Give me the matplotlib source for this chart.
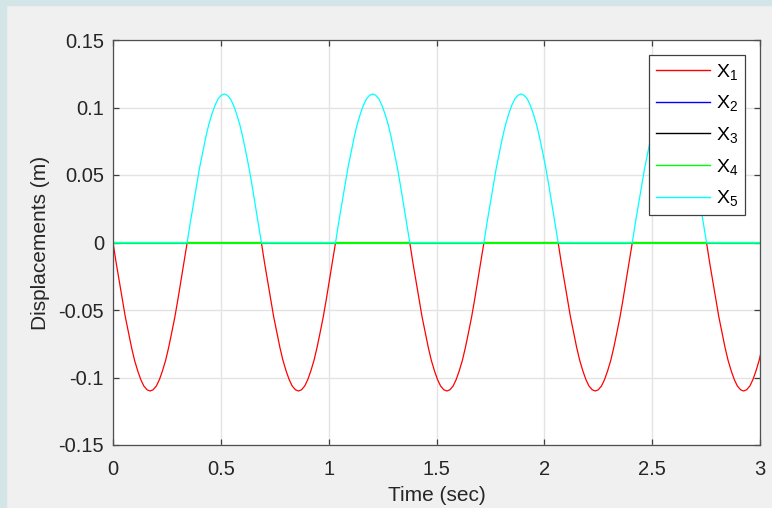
import numpy as np
import matplotlib
matplotlib.use("Agg")
import matplotlib.pyplot as plt
from matplotlib.patches import Rectangle

# time samples (sec)
t = [0.000, 0.014, 0.029, 0.043, 0.057, 0.072, 0.086, 0.100, 0.115, 0.129, 0.143, 0.158,
     0.172, 0.186, 0.201, 0.215, 0.229, 0.244, 0.258, 0.272, 0.287, 0.301, 0.315, 0.330,
     0.344, 0.358, 0.373, 0.387, 0.401, 0.416, 0.430, 0.444, 0.459, 0.473, 0.487, 0.502,
     0.516, 0.530, 0.545, 0.559, 0.573, 0.588, 0.602, 0.616, 0.631, 0.645, 0.659, 0.674,
     0.688, 0.702, 0.717, 0.731, 0.745, 0.760, 0.774, 0.788, 0.803, 0.817, 0.831, 0.846,
     0.860, 0.874, 0.889, 0.903, 0.917, 0.932, 0.946, 0.960, 0.975, 0.989, 1.003, 1.018,
     1.032, 1.046, 1.061, 1.075, 1.089, 1.104, 1.118, 1.132, 1.147, 1.161, 1.175, 1.190,
     1.204, 1.218, 1.233, 1.247, 1.261, 1.276, 1.290, 1.304, 1.319, 1.333, 1.347, 1.362,
     1.376, 1.390, 1.405, 1.419, 1.433, 1.448, 1.462, 1.476, 1.491, 1.505, 1.519, 1.534,
     1.548, 1.562, 1.577, 1.591, 1.605, 1.620, 1.634, 1.648, 1.663, 1.677, 1.691, 1.706,
     1.720, 1.734, 1.749, 1.763, 1.777, 1.792, 1.806, 1.820, 1.835, 1.849, 1.863, 1.878,
     1.892, 1.906, 1.921, 1.935, 1.949, 1.964, 1.978, 1.992, 2.007, 2.021, 2.035, 2.050,
     2.064, 2.078, 2.093, 2.107, 2.121, 2.136, 2.150, 2.164, 2.179, 2.193, 2.207, 2.222,
     2.236, 2.250, 2.265, 2.279, 2.293, 2.308, 2.322, 2.336, 2.351, 2.365, 2.379, 2.394,
     2.408, 2.422, 2.437, 2.451, 2.465, 2.480, 2.494, 2.508, 2.523, 2.537, 2.551, 2.566,
     2.580, 2.594, 2.609, 2.623, 2.637, 2.652, 2.666, 2.680, 2.695, 2.709, 2.723, 2.738,
     2.752, 2.766, 2.781, 2.795, 2.809, 2.824, 2.838, 2.852, 2.867, 2.881, 2.895, 2.910,
     2.924, 2.938, 2.953, 2.967, 2.981, 2.996, 3.010]

# displacement of the oscillating mass (m); negative part shows as x1, positive as x5
disp = [0.0, -0.0144, -0.0285, -0.0421, -0.0550, -0.0670, -0.0778, -0.0873, -0.0953, -0.1016, -0.1063, -0.1091,
        -0.1100, -0.1091, -0.1063, -0.1016, -0.0953, -0.0873, -0.0778, -0.0670, -0.0550, -0.0421, -0.0285, -0.0144,
        0.0, 0.0144, 0.0285, 0.0421, 0.0550, 0.0670, 0.0778, 0.0873, 0.0953, 0.1016, 0.1063, 0.1091,
        0.1100, 0.1091, 0.1063, 0.1016, 0.0953, 0.0873, 0.0778, 0.0670, 0.0550, 0.0421, 0.0285, 0.0144,
        0.0, -0.0144, -0.0285, -0.0421, -0.0550, -0.0670, -0.0778, -0.0873, -0.0953, -0.1016, -0.1063, -0.1091,
        -0.1100, -0.1091, -0.1063, -0.1016, -0.0953, -0.0873, -0.0778, -0.0670, -0.0550, -0.0421, -0.0285, -0.0144,
        0.0, 0.0144, 0.0285, 0.0421, 0.0550, 0.0670, 0.0778, 0.0873, 0.0953, 0.1016, 0.1063, 0.1091,
        0.1100, 0.1091, 0.1063, 0.1016, 0.0953, 0.0873, 0.0778, 0.0670, 0.0550, 0.0421, 0.0285, 0.0144,
        0.0, -0.0144, -0.0285, -0.0421, -0.0550, -0.0670, -0.0778, -0.0873, -0.0953, -0.1016, -0.1063, -0.1091,
        -0.1100, -0.1091, -0.1063, -0.1016, -0.0953, -0.0873, -0.0778, -0.0670, -0.0550, -0.0421, -0.0285, -0.0144,
        0.0, 0.0144, 0.0285, 0.0421, 0.0550, 0.0670, 0.0778, 0.0873, 0.0953, 0.1016, 0.1063, 0.1091,
        0.1100, 0.1091, 0.1063, 0.1016, 0.0953, 0.0873, 0.0778, 0.0670, 0.0550, 0.0421, 0.0285, 0.0144,
        0.0, -0.0144, -0.0285, -0.0421, -0.0550, -0.0670, -0.0778, -0.0873, -0.0953, -0.1016, -0.1063, -0.1091,
        -0.1100, -0.1091, -0.1063, -0.1016, -0.0953, -0.0873, -0.0778, -0.0670, -0.0550, -0.0421, -0.0285, -0.0144,
        0.0, 0.0144, 0.0285, 0.0421, 0.0550, 0.0670, 0.0778, 0.0873, 0.0953, 0.1016, 0.1063, 0.1091,
        0.1100, 0.1091, 0.1063, 0.1016, 0.0953, 0.0873, 0.0778, 0.0670, 0.0550, 0.0421, 0.0285, 0.0144,
        0.0, -0.0144, -0.0285, -0.0421, -0.0550, -0.0670, -0.0778, -0.0873, -0.0953, -0.1016, -0.1063, -0.1091,
        -0.1100, -0.1091, -0.1063, -0.1016, -0.0953, -0.0873, -0.0778]

labels = [r"$\mathregular{X_1}$", r"$\mathregular{X_2}$", r"$\mathregular{X_3}$",
          r"$\mathregular{X_4}$", r"$\mathregular{X_5}$"]
colors = ["#ff0000", "#0000ff", "#000000", "#00ff00", "#00ffff"]

xticks = [0, 0.5, 1, 1.5, 2, 2.5, 3]
xticklabels = ["0", "0.5", "1", "1.5", "2", "2.5", "3"]
yticks = [-0.15, -0.1, -0.05, 0, 0.05, 0.1, 0.15]
yticklabels = ["-0.15", "-0.1", "-0.05", "0", "0.05", "0.1", "0.15"]

t = np.array(t)
disp = np.array(disp)
x1 = np.minimum(disp, 0)
x2 = np.zeros_like(t)
x3 = np.zeros_like(t)
x4 = np.zeros_like(t)
x5 = np.maximum(disp, 0)
series = [x1, x2, x3, x4, x5]
widths = [0.9, 0.5, 0.5, 1.5, 0.9]

plt.rcParams['font.family'] = ['Liberation Sans', 'DejaVu Sans']
plt.rcParams['mathtext.fontset'] = 'custom'
plt.rcParams['mathtext.rm'] = 'Liberation Sans'

fig = plt.figure(figsize=(7.72, 5.08), dpi=100, facecolor="#f0f0f0")
# window border strips
fig.patches.append(Rectangle((0, 0), 6/772, 1, transform=fig.transFigure, color="#d3e5e6", zorder=0))
fig.patches.append(Rectangle((0, 1 - 5/508), 1, 5/508, transform=fig.transFigure, color="#d3e5e6", zorder=0))

ax = fig.add_axes([113/772, 63/508, 647/772, 405/508])
for y, c, lab, lw in zip(series, colors, labels, widths):
    ax.plot(t, y, color=c, linewidth=lw, label=lab)

ax.set_xlim(0, 3)
ax.set_ylim(-0.15, 0.15)
ax.set_xticks(xticks)
ax.set_xticklabels(xticklabels)
ax.set_yticks(yticks)
ax.set_yticklabels(yticklabels)
ax.grid(True, color="#e3e3e3", linewidth=1.0)
ax.set_axisbelow(True)
ax.tick_params(direction="in", length=4, width=0.9, color="#404040", labelcolor="#262626",
               labelsize=14.5, top=True, right=True)
ax.tick_params(axis="x", pad=10.5)
ax.tick_params(axis="y", pad=6.5)
for s in ax.spines.values():
    s.set_color("#505050")
    s.set_linewidth(0.9)

ax.set_xlabel("Time (sec)", fontsize=15, color="#262626", labelpad=5)
ax.set_ylabel("Displacements (m)", fontsize=15, color="#262626", labelpad=6)

leg = ax.legend(loc="upper right", bbox_to_anchor=(1 - 15/647, 1 - 15/405), borderaxespad=0,
                fontsize=14, handlelength=2.8, handletextpad=0.3, labelspacing=0.6,
                fancybox=False, framealpha=1, edgecolor="#404040", borderpad=0.35)
leg.get_frame().set_linewidth(0.9)
for h in leg.get_lines():
    h.set_linewidth(1.0)

plt.savefig("out.png", dpi=100, facecolor=fig.get_facecolor())
